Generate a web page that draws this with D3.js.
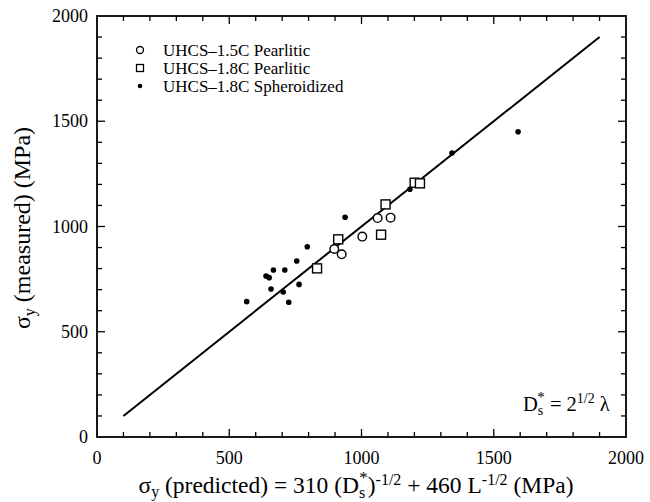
<!DOCTYPE html>
<html>
<head>
<meta charset="utf-8">
<script src="https://cdn.jsdelivr.net/npm/d3@7"></script>
<style>
  body { margin: 0; background: #fff; }
  svg text { font-family: "Liberation Serif", "DejaVu Serif", serif; fill: #000; }
</style>
</head>
<body>
<svg id="chart"></svg>
<script>
// data (predicted, measured) in MPa
const pearlitic15X = [897, 925, 1003, 1061, 1110];
const pearlitic15Y = [893, 868, 952, 1040, 1042];

const pearlitic18X = [832, 912, 1074, 1091, 1201, 1221];
const pearlitic18Y = [801, 939, 961, 1105, 1208, 1205];

const spheroX = [566, 639, 651, 658, 667, 704, 710, 725, 755, 764, 795, 938, 1183, 1342, 1592];
const spheroY = [643, 765, 757, 703, 793, 689, 793, 640, 836, 725, 904, 1044, 1177, 1349, 1450];

const fitLine = [[100, 100], [1900, 1900]];
const tickLabels = [0, 500, 1000, 1500, 2000];
const legendNames = ["UHCS\u20131.5C Pearlitic", "UHCS\u20131.8C Pearlitic", "UHCS\u20131.8C Spheroidized"];

const width = 650, height = 502;
const plotL = 97, plotR = 626, plotT = 16, plotB = 437;

const svg = d3.select("#chart").attr("width", width).attr("height", height);

const x = d3.scaleLinear().domain([0, 2000]).range([plotL, plotR]);
const y = d3.scaleLinear().domain([0, 2000]).range([plotB, plotT]);

const minor = d3.range(0, 2001, 100);

// frame
svg.append("rect")
  .attr("x", plotL).attr("y", plotT)
  .attr("width", plotR - plotL).attr("height", plotB - plotT)
  .attr("fill", "none").attr("stroke", "#000").attr("stroke-width", 1.8);

// inward ticks on all four sides
const tickLen = v => (v % 500 === 0 ? 8 : 5);
const ticks = svg.append("g").attr("stroke", "#000").attr("stroke-width", 1.3);
minor.forEach(v => {
  if (v === 0 || v === 2000) return;
  ticks.append("line").attr("x1", x(v)).attr("x2", x(v)).attr("y1", plotB).attr("y2", plotB - tickLen(v));
  ticks.append("line").attr("x1", x(v)).attr("x2", x(v)).attr("y1", plotT).attr("y2", plotT + tickLen(v));
  ticks.append("line").attr("y1", y(v)).attr("y2", y(v)).attr("x1", plotL).attr("x2", plotL + tickLen(v));
  ticks.append("line").attr("y1", y(v)).attr("y2", y(v)).attr("x1", plotR).attr("x2", plotR - tickLen(v));
});

// tick labels
svg.append("g").selectAll("text").data(tickLabels).enter().append("text")
  .attr("x", d => x(d)).attr("y", 464)
  .attr("text-anchor", "middle").attr("font-size", 18)
  .text(d => d);
svg.append("g").selectAll("text").data(tickLabels).enter().append("text")
  .attr("x", 88).attr("y", d => y(d) + 6)
  .attr("text-anchor", "end").attr("font-size", 18)
  .text(d => d);

// fit line
svg.append("path")
  .datum(fitLine)
  .attr("fill", "none").attr("stroke", "#000").attr("stroke-width", 2)
  .attr("d", d3.line().x(d => x(d[0])).y(d => y(d[1])));

// markers
const zip = (xs, ys) => xs.map((v, i) => [v, ys[i]]);

svg.append("g").selectAll("circle").data(zip(pearlitic15X, pearlitic15Y)).enter().append("circle")
  .attr("cx", d => x(d[0])).attr("cy", d => y(d[1])).attr("r", 4.3)
  .attr("fill", "#fff").attr("stroke", "#000").attr("stroke-width", 1.4);

svg.append("g").selectAll("rect").data(zip(pearlitic18X, pearlitic18Y)).enter().append("rect")
  .attr("x", d => x(d[0]) - 4.5).attr("y", d => y(d[1]) - 4.5)
  .attr("width", 9).attr("height", 9)
  .attr("fill", "#fff").attr("stroke", "#000").attr("stroke-width", 1.4);

svg.append("g").selectAll("circle").data(zip(spheroX, spheroY)).enter().append("circle")
  .attr("cx", d => x(d[0])).attr("cy", d => y(d[1])).attr("r", 2.8)
  .attr("fill", "#000");

// legend
const legY = [50, 68, 86];
const leg = svg.append("g");
leg.append("circle").attr("cx", 140).attr("cy", legY[0]).attr("r", 3.5)
  .attr("fill", "#fff").attr("stroke", "#000").attr("stroke-width", 1.3);
leg.append("rect").attr("x", 136.5).attr("y", legY[1] - 3.5).attr("width", 7).attr("height", 7)
  .attr("fill", "#fff").attr("stroke", "#000").attr("stroke-width", 1.3);
leg.append("circle").attr("cx", 140).attr("cy", legY[2]).attr("r", 2.3).attr("fill", "#000");
leg.selectAll("text").data(legendNames).enter().append("text")
  .attr("x", 163).attr("y", (d, i) => legY[i] + 5.5)
  .attr("font-size", 17)
  .text(d => d);

// y axis label
const yl = svg.append("text")
  .attr("transform", "translate(30,228) rotate(-90)")
  .attr("text-anchor", "middle").attr("font-size", 24);
yl.append("tspan").text("\u03c3");
yl.append("tspan").attr("font-size", 16).attr("dy", 5).text("y");
yl.append("tspan").attr("dy", -5).text(" (measured) (MPa)");

// x axis label
const xl = svg.append("text")
  .attr("x", 356).attr("y", 493)
  .attr("text-anchor", "middle").attr("font-size", 23.5);
xl.append("tspan").text("\u03c3");
xl.append("tspan").attr("font-size", 16).attr("dy", 4).text("y");
xl.append("tspan").attr("dy", -4).text(" (predicted) = 310 (D");
xl.append("tspan").attr("font-size", 16).attr("dy", 5).text("s");
xl.append("tspan").attr("font-size", 17).attr("dx", -6).attr("dy", -15).text("*");
xl.append("tspan").attr("dy", 10).text(")");
xl.append("tspan").attr("font-size", 16).attr("dy", -8).text("-1/2");
xl.append("tspan").attr("dy", 8).text("  + 460 L");
xl.append("tspan").attr("font-size", 16).attr("dy", -8).text("-1/2");
xl.append("tspan").attr("dy", 8).text(" (MPa)");

// annotation
const an = svg.append("text")
  .attr("x", 523).attr("y", 411)
  .attr("font-size", 20.5);
an.append("tspan").text("D");
an.append("tspan").attr("font-size", 14).attr("dy", 4).text("s");
an.append("tspan").attr("font-size", 15).attr("dx", -6).attr("dy", -13).text("*");
an.append("tspan").attr("dy", 9).text(" = 2");
an.append("tspan").attr("font-size", 14).attr("dy", -8).text("1/2");
an.append("tspan").attr("dy", 8).text(" \u03bb");
</script>
</body>
</html>
